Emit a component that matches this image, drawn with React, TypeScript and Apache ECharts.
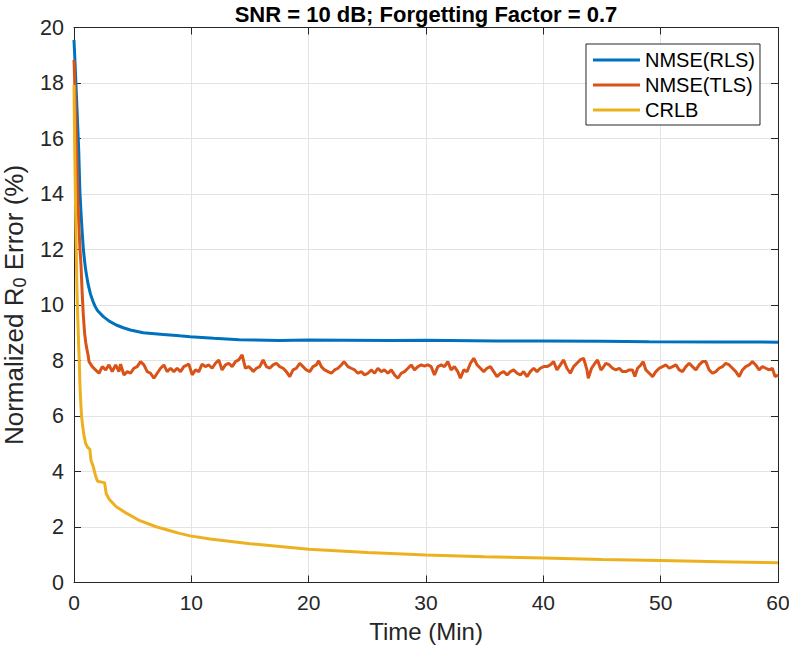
import React, { useEffect, useRef } from "react";
import * as echarts from "echarts";

const titleText = "SNR = 10 dB; Forgetting Factor = 0.7";
const seriesNames = ["NMSE(RLS)", "NMSE(TLS)", "CRLB"];
const seriesColors = ["#0072BD", "#D95319", "#EDB120"];
const xTicks = [0, 10, 20, 30, 40, 50, 60];
const yTicks = [0, 2, 4, 6, 8, 10, 12, 14, 16, 18, 20];

const rlsTime = [0, 0.1, 0.2, 0.3, 0.4, 0.5, 0.6, 0.7, 0.8, 0.9, 1.0, 1.2, 1.4, 1.6, 1.8, 2.0, 2.5, 3.0, 3.6, 4.2, 4.8, 5.9, 7.6, 9.0, 9.9, 11.9, 14.1, 17.5, 20, 23, 27, 30, 32, 36, 40, 45, 49, 55, 60];
const rlsValues = [19.55, 18.6, 17.6, 16.6, 15.6, 14.1, 13.3, 12.6, 12.0, 11.6, 11.25, 10.75, 10.4, 10.15, 9.95, 9.8, 9.58, 9.42, 9.28, 9.18, 9.1, 9.0, 8.94, 8.89, 8.86, 8.8, 8.75, 8.72, 8.74, 8.73, 8.72, 8.73, 8.72, 8.7, 8.7, 8.69, 8.68, 8.67, 8.66];

const tlsTime = [0, 0.1, 0.2, 0.3, 0.4, 0.5, 0.6, 0.7, 0.8, 0.9, 1.0, 1.1, 1.2, 1.28,
  1.56, 1.84, 2.13, 2.41, 2.7, 2.98, 3.26, 3.55, 3.83, 3.97, 4.26, 4.54, 4.82, 5.1, 5.39, 5.67, 5.96, 6.24, 6.52, 6.81, 7.09, 7.38, 7.66, 7.94, 8.23, 8.51, 8.79, 9.08, 9.36, 9.79, 10.07, 10.35, 10.64, 10.92, 11.2, 11.49, 11.77, 12.06, 12.34, 12.62, 12.91, 13.19, 13.48, 13.76, 14.04, 14.33, 14.61, 14.89, 15.18,
  15.26, 15.55, 15.83, 16.12, 16.4, 16.68, 16.97, 17.25, 17.53, 17.82, 18.1, 18.39, 18.67, 18.95, 19.24, 19.52, 19.8, 20.09, 20.37, 20.65, 20.85, 21.08, 21.36, 21.65, 21.93, 22.21, 22.5, 22.78, 23.01, 23.35, 23.63, 23.92, 24.2, 24.48, 24.77, 25.05, 25.33, 25.62, 25.9, 26.19, 26.47, 26.75, 27.04, 27.32, 27.6, 27.89, 28.17, 28.46, 28.74, 29.02, 29.31, 29.59, 29.87,
  30.16, 30.44, 30.72, 31.01, 31.29, 31.57, 31.86, 32.14, 32.42, 32.71, 32.93, 33.22, 33.5, 33.79, 34.07, 34.35, 34.64, 34.92, 35.2, 35.49, 35.77, 36.05, 36.34, 36.62, 36.91, 37.19, 37.47, 37.76, 38.04, 38.32, 38.61, 38.89, 39.18, 39.46, 39.74, 40.03, 40.31, 40.59, 40.88, 41.16, 41.45, 41.73, 42.01, 42.3, 42.58, 42.86, 43.15, 43.43, 43.72, 43.83, 44.11, 44.4, 44.62, 44.91,
  45.05, 45.33, 45.62, 45.9, 46.18, 46.47, 46.75, 47.04, 47.32, 47.6, 47.8, 48.03, 48.31, 48.51, 48.74, 49.03, 49.31, 49.59, 49.88, 50.16, 50.45, 50.73, 51.01, 51.3, 51.58, 51.86, 52.15, 52.43, 52.71, 53.0, 53.28, 53.57, 53.85, 54.13, 54.42, 54.7, 54.98, 55.27, 55.55, 55.84, 56.12, 56.4, 56.69, 56.97, 57.25, 57.54, 57.82, 58.1, 58.39, 58.67, 58.96, 59.24, 59.52, 59.75, 60.0];
const tlsValues = [18.83, 17.5, 16.0, 14.3, 13.0, 12.1, 11.4, 10.4, 9.6, 9.0, 8.65, 8.4, 8.2, 7.96,
  7.78, 7.66, 7.54, 7.78, 7.66, 7.84, 7.6, 7.84, 7.6, 7.87, 7.48, 7.6, 7.54, 7.72, 7.78, 7.96, 7.84, 7.6, 7.54, 7.36, 7.54, 7.72, 7.84, 7.6, 7.72, 7.6, 7.72, 7.6, 7.78, 7.87, 7.48, 7.66, 7.6, 7.87, 7.78, 7.84, 7.72, 7.9, 8.02, 7.66, 7.84, 7.9, 7.78, 7.96, 8.02, 8.2, 7.72, 7.78, 7.66,
  7.6, 7.72, 7.78, 8.02, 7.78, 7.72, 7.84, 7.9, 7.78, 7.72, 7.6, 7.42, 7.66, 7.72, 7.9, 7.78, 7.66, 7.6, 7.78, 7.84, 7.99, 7.78, 7.66, 7.6, 7.54, 7.66, 7.72, 7.84, 7.96, 7.78, 7.72, 7.66, 7.54, 7.6, 7.48, 7.54, 7.66, 7.54, 7.72, 7.6, 7.66, 7.54, 7.66, 7.48, 7.36, 7.54, 7.6, 7.72, 7.84, 7.66, 7.78, 7.84, 7.8,
  7.84, 7.78, 7.48, 7.78, 7.84, 7.78, 7.96, 7.66, 7.78, 7.6, 7.36, 7.66, 7.6, 7.9, 8.08, 7.84, 7.72, 7.6, 7.72, 7.78, 7.6, 7.42, 7.54, 7.6, 7.48, 7.6, 7.66, 7.54, 7.48, 7.6, 7.42, 7.6, 7.72, 7.6, 7.72, 7.78, 7.78, 7.84, 7.96, 7.66, 7.84, 8.02, 7.72, 7.54, 7.78, 7.9, 8.02, 8.08, 7.66, 7.36, 7.72, 7.9, 8.02, 7.66,
  7.72, 7.9, 7.84, 7.72, 7.66, 7.72, 7.6, 7.6, 7.66, 7.66, 7.42, 7.72, 7.84, 7.96, 7.66, 7.54, 7.42, 7.6, 7.72, 7.78, 7.84, 7.72, 7.78, 7.84, 7.66, 7.6, 7.78, 7.9, 7.78, 7.66, 7.84, 7.96, 7.96, 7.66, 7.54, 7.6, 7.72, 7.78, 7.9, 7.84, 7.72, 7.6, 7.42, 7.66, 7.78, 7.84, 7.96, 7.84, 7.66, 7.78, 7.72, 7.66, 7.72, 7.42, 7.48];

const crlbTime = [0, 0.05, 0.1, 0.15, 0.2, 0.25, 0.3, 0.35, 0.4, 0.45, 0.5, 0.55, 0.6, 0.65, 0.75, 0.85, 1.0, 1.2, 1.35, 1.45, 1.65, 1.8, 2.0, 2.6, 2.75, 3.0, 3.6, 4.5, 5.5, 7.0, 8.5, 9.0, 9.9, 11.6, 15, 20, 25, 30, 35, 40, 45, 50, 55, 60];
const crlbValues = [17.93, 16.0, 14.5, 13.0, 11.8, 10.6, 9.8, 9.2, 8.5, 8.0, 7.2, 6.7, 6.3, 5.97, 5.6, 5.3, 5.0, 4.85, 4.8, 4.4, 4.17, 3.9, 3.65, 3.6, 3.2, 3.0, 2.73, 2.49, 2.25, 2.01, 1.83, 1.77, 1.68, 1.57, 1.4, 1.2, 1.08, 0.99, 0.93, 0.88, 0.83, 0.79, 0.75, 0.71];

const FONT = "'Liberation Sans', Arial, Helvetica, sans-serif";
const AX = "#262626";

function pairs(t: number[], v: number[]) {
  return t.map((x, i) => [x, v[i]]);
}

export default function App() {
  const ref = useRef<HTMLDivElement>(null);
  useEffect(() => {
    document.body.style.margin = "0";
    if (!ref.current) return;
    const chart = echarts.init(ref.current, undefined, { renderer: "svg" });
    const tick = { show: true, inside: true, length: 7, lineStyle: { color: AX, width: 1 } };
    const line = { show: true, onZero: false, lineStyle: { color: AX, width: 1 } };
    const xMain = {
      type: "value", min: xTicks[0], max: xTicks[xTicks.length - 1], interval: 10,
      position: "bottom", axisLine: line, axisTick: tick,
      axisLabel: { fontSize: 21, color: AX, fontFamily: FONT, margin: 9 },
      splitLine: { show: true, lineStyle: { color: "#e3e3e3", width: 1 } },
      name: "Time (Min)", nameLocation: "middle", nameGap: 37,
      nameTextStyle: { fontSize: 24, color: AX, fontFamily: FONT },
    };
    const xTop = {
      type: "value", min: xTicks[0], max: xTicks[xTicks.length - 1], interval: 10,
      position: "top", axisLine: line, axisTick: tick, axisLabel: { show: false }, splitLine: { show: false },
    };
    const yMain = {
      type: "value", min: yTicks[0], max: yTicks[yTicks.length - 1], interval: 2,
      position: "left", axisLine: line, axisTick: tick,
      axisLabel: { fontSize: 21.5, color: AX, fontFamily: FONT, margin: 10 },
      splitLine: { show: true, lineStyle: { color: "#e3e3e3", width: 1 } },
      name: "Normalized R{sub|0} Error (%)", nameLocation: "middle", nameGap: 40,
      nameTextStyle: {
        fontSize: 26, color: AX, fontFamily: FONT,
        rich: { sub: { fontSize: 18, color: AX, fontFamily: FONT, padding: [13, 0, 0, 0] } },
      },
    };
    const yRight = {
      type: "value", min: yTicks[0], max: yTicks[yTicks.length - 1], interval: 2,
      position: "right", axisLine: line, axisTick: tick, axisLabel: { show: false }, splitLine: { show: false },
    };
    const datasets = [pairs(rlsTime, rlsValues), pairs(tlsTime, tlsValues), pairs(crlbTime, crlbValues)];
    chart.setOption({
      animation: false,
      backgroundColor: "#ffffff",
      title: {
        text: titleText, left: 426, top: 3, textAlign: "center", padding: 0,
        textStyle: { fontSize: 22, fontWeight: "bold", color: "#000", fontFamily: FONT },
      },
      grid: { left: 74, right: 11, top: 27.5, bottom: 65.5, containLabel: false, outerBoundsMode: "none" },
      xAxis: [xMain, xTop],
      yAxis: [yMain, yRight],
      legend: {
        orient: "vertical", right: 29, top: 44,
        data: seriesNames, icon: "rect", itemWidth: 47, itemHeight: 3, itemGap: 5,
        textStyle: { fontSize: 20, color: "#000", fontFamily: FONT },
        borderColor: AX, borderWidth: 1, backgroundColor: "#ffffff",
        padding: [6, 5, 5, 7],
      },
      series: seriesNames.map((name, i) => ({
        name, type: "line", xAxisIndex: 0, yAxisIndex: 0,
        data: datasets[i], showSymbol: false, symbol: "none",
        lineStyle: { color: seriesColors[i], width: 3 },
        itemStyle: { color: seriesColors[i] },
        z: 2 + i,
      })),
    });
    return () => chart.dispose();
  }, []);
  return <div ref={ref} style={{ width: 789, height: 648 }} />;
}
